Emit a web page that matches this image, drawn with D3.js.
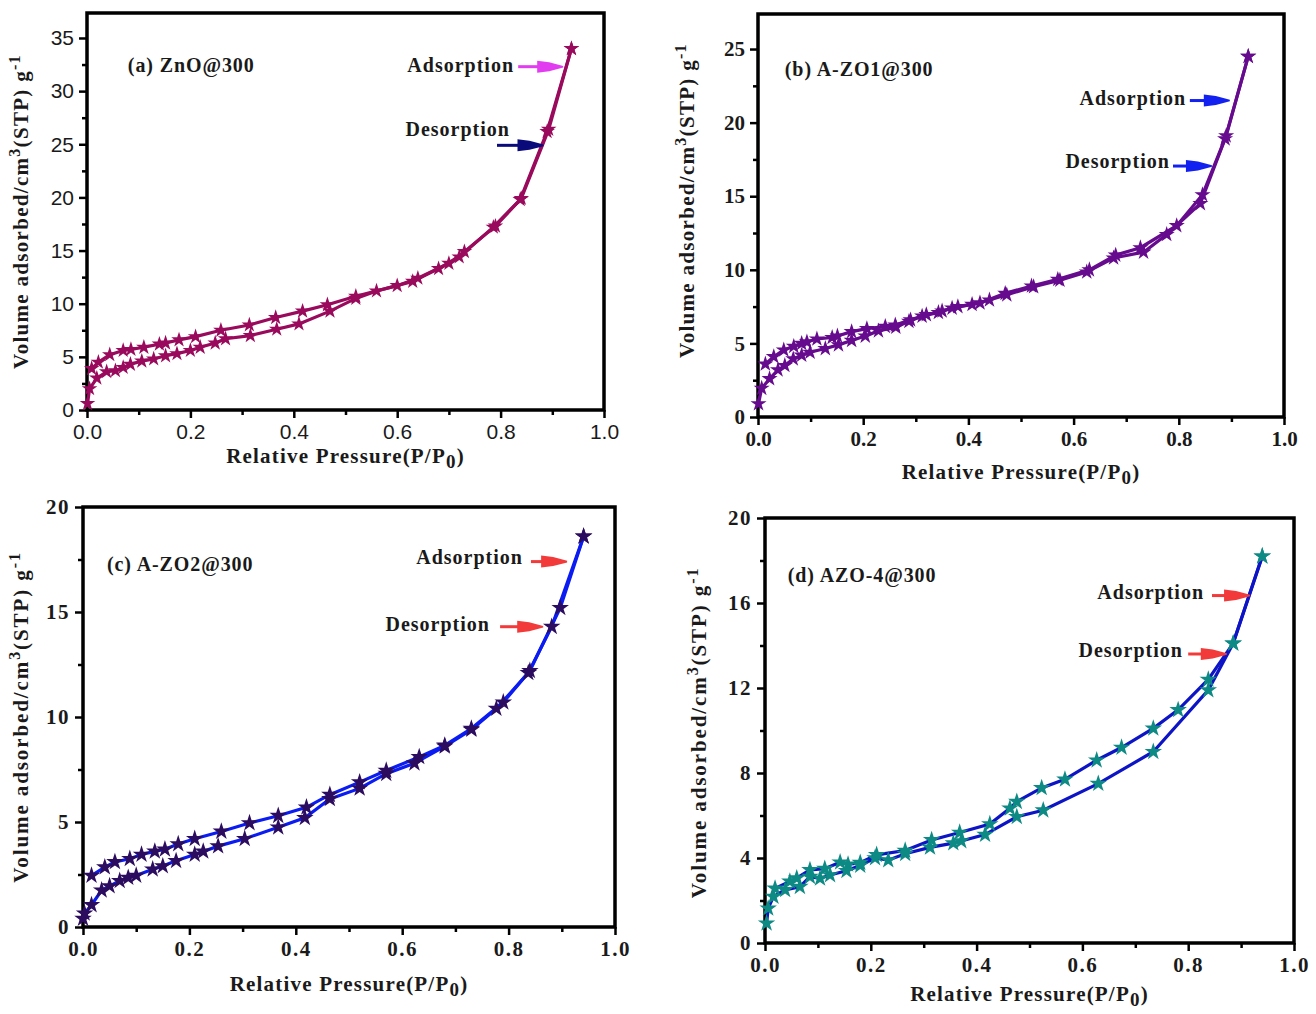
<!DOCTYPE html>
<html>
<head>
<meta charset="utf-8">
<script src="https://cdn.jsdelivr.net/npm/d3@7/dist/d3.min.js"></script>
<style>
  body { margin: 0; background: #fff; }
  svg { display: block; }
</style>
</head>
<body>
<svg id="fig" width="1316" height="1014"></svg>
<script>
// N2 adsorption–desorption isotherms, relative pressure P/P0 vs volume adsorbed (cm3 STP g-1)

// (a) ZnO@300
const pA_ads = [0.001, 0.005, 0.019, 0.038, 0.055, 0.07, 0.084, 0.106, 0.129, 0.152, 0.174, 0.2, 0.219, 0.248, 0.268, 0.316, 0.367, 0.41, 0.47, 0.52, 0.56, 0.63, 0.68, 0.72, 0.786, 0.838, 0.89, 0.937];
const vA_ads = [0.6, 2.0, 3.0, 3.6, 3.7, 4.0, 4.3, 4.6, 4.8, 5.1, 5.3, 5.6, 5.9, 6.3, 6.7, 7.0, 7.6, 8.1, 9.3, 10.5, 11.2, 12.1, 13.3, 14.4, 17.2, 19.8, 26.2, 34.0];
const pA_des = [0.009, 0.022, 0.044, 0.07, 0.085, 0.11, 0.14, 0.152, 0.178, 0.21, 0.259, 0.314, 0.365, 0.417, 0.465, 0.52, 0.6, 0.64, 0.7, 0.73, 0.79, 0.84, 0.893, 0.937];
const vA_des = [3.9, 4.5, 5.2, 5.6, 5.7, 5.9, 6.2, 6.3, 6.6, 6.9, 7.5, 8.0, 8.7, 9.3, 9.9, 10.7, 11.7, 12.4, 13.8, 14.9, 17.3, 19.9, 26.4, 34.0];

// (b) A-ZO1@300
const pB_ads = [0.001, 0.007, 0.022, 0.038, 0.051, 0.067, 0.083, 0.099, 0.128, 0.153, 0.178, 0.204, 0.229, 0.262, 0.287, 0.312, 0.343, 0.369, 0.407, 0.44, 0.473, 0.524, 0.574, 0.625, 0.676, 0.733, 0.777, 0.841, 0.888, 0.932];
const vB_ads = [0.9, 1.95, 2.6, 3.2, 3.5, 3.95, 4.2, 4.4, 4.65, 4.9, 5.2, 5.5, 5.85, 6.1, 6.5, 6.85, 7.1, 7.4, 7.65, 7.95, 8.3, 8.85, 9.3, 9.85, 10.8, 11.2, 12.4, 14.5, 18.9, 24.5];
const pB_des = [0.014, 0.03, 0.049, 0.068, 0.083, 0.093, 0.112, 0.141, 0.151, 0.178, 0.207, 0.242, 0.261, 0.29, 0.32, 0.35, 0.38, 0.422, 0.47, 0.52, 0.57, 0.63, 0.68, 0.727, 0.796, 0.845, 0.89, 0.932];
const vB_des = [3.6, 4.1, 4.55, 4.8, 5.0, 5.1, 5.3, 5.4, 5.5, 5.8, 6.0, 6.15, 6.25, 6.6, 6.95, 7.2, 7.5, 7.75, 8.4, 8.9, 9.35, 10.0, 11.0, 11.5, 13.0, 15.1, 19.1, 24.5];

// (c) A-ZO2@300
const pC_ads = [0.0, 0.003, 0.016, 0.035, 0.05, 0.069, 0.085, 0.1, 0.131, 0.15, 0.175, 0.21, 0.226, 0.254, 0.304, 0.367, 0.417, 0.464, 0.52, 0.57, 0.623, 0.68, 0.73, 0.777, 0.837, 0.881, 0.941];
const vC_ads = [0.4, 0.65, 1.05, 1.75, 1.95, 2.2, 2.35, 2.45, 2.75, 2.9, 3.15, 3.45, 3.6, 3.85, 4.2, 4.75, 5.2, 6.1, 6.6, 7.3, 7.8, 8.6, 9.4, 10.4, 12.1, 14.3, 18.6];
const pC_des = [0.016, 0.041, 0.06, 0.088, 0.11, 0.135, 0.154, 0.179, 0.21, 0.26, 0.313, 0.367, 0.42, 0.464, 0.52, 0.57, 0.632, 0.68, 0.73, 0.79, 0.84, 0.897, 0.941];
const vC_des = [2.45, 2.85, 3.1, 3.25, 3.45, 3.6, 3.7, 3.95, 4.2, 4.55, 4.95, 5.3, 5.7, 6.3, 6.9, 7.45, 8.1, 8.65, 9.45, 10.7, 12.2, 15.2, 18.6];

// (d) AZO-4@300
const pD_ads = [0.003, 0.006, 0.016, 0.038, 0.066, 0.085, 0.104, 0.123, 0.154, 0.18, 0.208, 0.233, 0.265, 0.312, 0.356, 0.371, 0.416, 0.476, 0.526, 0.63, 0.734, 0.838, 0.885, 0.94];
const vD_ads = [0.93, 1.63, 2.18, 2.5, 2.65, 3.12, 3.04, 3.2, 3.4, 3.65, 4.0, 3.9, 4.2, 4.5, 4.7, 4.8, 5.1, 5.94, 6.25, 7.5, 9.0, 11.9, 14.1, 18.2];
const pD_des = [0.019, 0.047, 0.06, 0.085, 0.113, 0.142, 0.157, 0.18, 0.211, 0.265, 0.315, 0.368, 0.425, 0.463, 0.476, 0.523, 0.567, 0.627, 0.674, 0.734, 0.781, 0.838, 0.885, 0.94];
const vD_des = [2.57, 2.9, 3.05, 3.44, 3.5, 3.8, 3.7, 3.78, 4.15, 4.35, 4.85, 5.2, 5.6, 6.34, 6.65, 7.3, 7.7, 8.6, 9.2, 10.1, 10.97, 12.4, 14.1, 18.2];

// Axis ticks
const xTicks = [0.0, 0.2, 0.4, 0.6, 0.8, 1.0];
const xMinor = [0.1, 0.3, 0.5, 0.7, 0.9];
const yTicksA = [0, 5, 10, 15, 20, 25, 30, 35];
const yTicksB = [0, 5, 10, 15, 20, 25];
const yTicksC = [0, 5, 10, 15, 20];
const yTicksD = [0, 4, 8, 12, 16, 20];

const panelLabels = ["(a) ZnO@300", "(b) A-ZO1@300", "(c) A-ZO2@300", "(d) AZO-4@300"];

const SERIF = "'Liberation Serif', 'Times New Roman', serif";
const SANS = "'Liberation Sans', Arial, sans-serif";

const panels = [
  {
    label: panelLabels[0], box: {l: 87, r: 604, t: 13, b: 410}, yMax: 37.35,
    yTicks: yTicksA, yMinorStep: 2.5,
    ads: {p: pA_ads, v: vA_ads}, des: {p: pA_des, v: vA_des},
    lineColor: "#9a0a5c", starColor: "#9a0a5c", starSize: 75,
    tickFont: SANS, tickWeight: "normal", tickSize: 21, tickSpacing: 0,
    labelAt: [0.079, 31.8],
    adsText: [0.826, 31.8], adsArrow: [0.834, 0.921, 32.3], adsArrowColor: "#e23cf0",
    desText: [0.818, 25.8], desArrow: [0.793, 0.883, 24.9], desArrowColor: "#0a0a7a",
    yTitleX: 28, yTitleShift: 0, yTitleSpacing: 1.3, xTitleY: 463
  },
  {
    label: panelLabels[1], box: {l: 758, r: 1284, t: 14, b: 417}, yMax: 27.38,
    yTicks: yTicksB, yMinorStep: 2.5,
    ads: {p: pB_ads, v: vB_ads}, des: {p: pB_des, v: vB_des},
    lineColor: "#660a8e", starColor: "#660a8e", starSize: 80,
    tickFont: SERIF, tickWeight: "bold", tickSize: 21, tickSpacing: 0,
    labelAt: [0.051, 23.2],
    adsText: [0.814, 21.2], adsArrow: [0.821, 0.897, 21.5], adsArrowColor: "#1220f0",
    desText: [0.783, 16.9], desArrow: [0.789, 0.863, 17.05], desArrowColor: "#1220f0",
    yTitleX: 694, yTitleShift: -15, yTitleSpacing: 1.3, xTitleY: 479
  },
  {
    label: panelLabels[2], box: {l: 83, r: 615, t: 507, b: 927}, yMax: 20,
    yTicks: yTicksC, yMinorStep: 2.5,
    ads: {p: pC_ads, v: vC_ads}, des: {p: pC_des, v: vC_des},
    lineColor: "#0a1cf2", starColor: "#2c0c5e", starSize: 95,
    tickFont: SERIF, tickWeight: "bold", tickSize: 21, tickSpacing: 1.5,
    labelAt: [0.045, 16.95],
    adsText: [0.827, 17.3], adsArrow: [0.842, 0.91, 17.4], adsArrowColor: "#f23a3a",
    desText: [0.765, 14.1], desArrow: [0.784, 0.865, 14.3], desArrowColor: "#f23a3a",
    yTitleX: 28, yTitleShift: 0, yTitleSpacing: 1.9, xTitleY: 991
  },
  {
    label: panelLabels[3], box: {l: 765, r: 1294, t: 518, b: 943}, yMax: 20,
    yTicks: yTicksD, yMinorStep: 2,
    ads: {p: pD_ads, v: vD_ads}, des: {p: pD_des, v: vD_des},
    lineColor: "#0c14c6", starColor: "#0e8a84", starSize: 95,
    tickFont: SERIF, tickWeight: "bold", tickSize: 21, tickSpacing: 1.5,
    labelAt: [0.043, 17.0],
    adsText: [0.83, 16.2], adsArrow: [0.845, 0.917, 16.35], adsArrowColor: "#f23a3a",
    desText: [0.79, 13.45], desArrow: [0.8, 0.873, 13.6], desArrowColor: "#f23a3a",
    yTitleX: 706, yTitleShift: 2, yTitleSpacing: 1.9, xTitleY: 1001
  }
];

const svg = d3.select("#fig");

function drawArrow(g, x0, x1, y, color) {
  const headLen = 26;
  const xa = x1 - headLen;
  g.append("line")
    .attr("x1", x0).attr("x2", xa + 2).attr("y1", y).attr("y2", y)
    .attr("stroke", color).attr("stroke-width", 3);
  g.append("path")
    .attr("d", `M${xa},${y - 6} L${xa + 12},${y - 4.5} L${x1},${y - 0.8} L${x1},${y + 0.8} L${xa + 12},${y + 4.5} L${xa},${y + 6} Z`)
    .attr("fill", color);
}

panels.forEach(P => {
  const g = svg.append("g");
  const x = d3.scaleLinear().domain([0, 1]).range([P.box.l, P.box.r]);
  const y = d3.scaleLinear().domain([0, P.yMax]).range([P.box.b, P.box.t]);
  const star = d3.symbol().type(d3.symbolStar).size(P.starSize);

  // minor ticks
  const yMinor = d3.range(P.yMinorStep, P.yMax, P.yMinorStep).filter(v => !P.yTicks.includes(v));
  g.append("g").attr("transform", `translate(${P.box.l},0)`)
    .call(d3.axisLeft(y).tickValues(yMinor).tickSize(5).tickFormat(""))
    .call(a => a.select(".domain").remove())
    .call(a => a.selectAll("line").attr("stroke", "#000").attr("stroke-width", 2.5));
  g.append("g").attr("transform", `translate(0,${P.box.b})`)
    .call(d3.axisBottom(x).tickValues(xMinor).tickSize(5).tickFormat(""))
    .call(a => a.select(".domain").remove())
    .call(a => a.selectAll("line").attr("stroke", "#000").attr("stroke-width", 2.5));

  // major ticks with labels
  g.append("g").attr("transform", `translate(${P.box.l},0)`)
    .call(d3.axisLeft(y).tickValues(P.yTicks).tickSize(8).tickPadding(5).tickFormat(d3.format("d")))
    .call(a => a.select(".domain").remove())
    .call(a => a.selectAll("line").attr("stroke", "#000").attr("stroke-width", 2.5))
    .call(a => a.selectAll("text")
      .attr("font-family", P.tickFont).attr("font-weight", P.tickWeight)
      .attr("font-size", P.tickSize).attr("fill", "#1a1a1a")
      .attr("letter-spacing", P.tickSpacing));
  g.append("g").attr("transform", `translate(0,${P.box.b})`)
    .call(d3.axisBottom(x).tickValues(xTicks).tickSize(8).tickPadding(6).tickFormat(d3.format(".1f")))
    .call(a => a.select(".domain").remove())
    .call(a => a.selectAll("line").attr("stroke", "#000").attr("stroke-width", 2.5))
    .call(a => a.selectAll("text")
      .attr("font-family", P.tickFont).attr("font-weight", P.tickWeight)
      .attr("font-size", P.tickSize).attr("fill", "#1a1a1a")
      .attr("letter-spacing", P.tickSpacing));

  // frame
  g.append("rect")
    .attr("x", P.box.l).attr("y", P.box.t)
    .attr("width", P.box.r - P.box.l).attr("height", P.box.b - P.box.t)
    .attr("fill", "none").attr("stroke", "#000").attr("stroke-width", 3.5);

  // isotherm branches
  const line = d3.line().x(d => x(d[0])).y(d => y(d[1]));
  [P.ads, P.des].forEach(s => {
    const pts = s.p.map((p, i) => [p, s.v[i]]);
    g.append("path").datum(pts)
      .attr("d", line).attr("fill", "none")
      .attr("stroke", P.lineColor).attr("stroke-width", 3.2);
  });
  [P.ads, P.des].forEach(s => {
    const pts = s.p.map((p, i) => [p, s.v[i]]);
    g.append("g").selectAll("path").data(pts).join("path")
      .attr("d", star)
      .attr("transform", d => `translate(${x(d[0])},${y(d[1])})`)
      .attr("fill", P.starColor);
  });

  // panel label
  g.append("text")
    .attr("x", x(P.labelAt[0])).attr("y", y(P.labelAt[1]))
    .attr("font-family", SERIF).attr("font-weight", "bold").attr("font-size", 20)
    .attr("letter-spacing", 0.9).attr("fill", "#1a1a1a")
    .text(P.label);

  // branch annotations
  g.append("text")
    .attr("x", x(P.adsText[0])).attr("y", y(P.adsText[1]))
    .attr("text-anchor", "end")
    .attr("font-family", SERIF).attr("font-weight", "bold").attr("font-size", 20)
    .attr("letter-spacing", 1).attr("fill", "#1a1a1a")
    .text("Adsorption");
  drawArrow(g, x(P.adsArrow[0]), x(P.adsArrow[1]), y(P.adsArrow[2]), P.adsArrowColor);
  g.append("text")
    .attr("x", x(P.desText[0])).attr("y", y(P.desText[1]))
    .attr("text-anchor", "end")
    .attr("font-family", SERIF).attr("font-weight", "bold").attr("font-size", 20)
    .attr("letter-spacing", 1).attr("fill", "#1a1a1a")
    .text("Desorption");
  drawArrow(g, x(P.desArrow[0]), x(P.desArrow[1]), y(P.desArrow[2]), P.desArrowColor);

  // axis titles
  const xt = g.append("text")
    .attr("x", (P.box.l + P.box.r) / 2).attr("y", P.xTitleY)
    .attr("text-anchor", "middle")
    .attr("font-family", SERIF).attr("font-weight", "bold").attr("font-size", 21)
    .attr("letter-spacing", 1.2).attr("fill", "#1a1a1a");
  xt.append("tspan").text("Relative Pressure(P/P");
  xt.append("tspan").attr("dy", 5).attr("font-size", 19).text("0");
  xt.append("tspan").attr("dy", -5).text(")");

  const yc = (P.box.t + P.box.b) / 2 + P.yTitleShift;
  const yt = g.append("text")
    .attr("transform", `translate(${P.yTitleX},${yc}) rotate(-90)`)
    .attr("text-anchor", "middle")
    .attr("font-family", SERIF).attr("font-weight", "bold").attr("font-size", 21)
    .attr("letter-spacing", P.yTitleSpacing).attr("fill", "#1a1a1a");
  yt.append("tspan").text("Volume adsorbed/cm");
  yt.append("tspan").attr("dy", -8).attr("font-size", 16).text("3");
  yt.append("tspan").attr("dy", 8).text("(STP) g");
  yt.append("tspan").attr("dy", -8).attr("font-size", 16).text("-1");
});
</script>
</body>
</html>
